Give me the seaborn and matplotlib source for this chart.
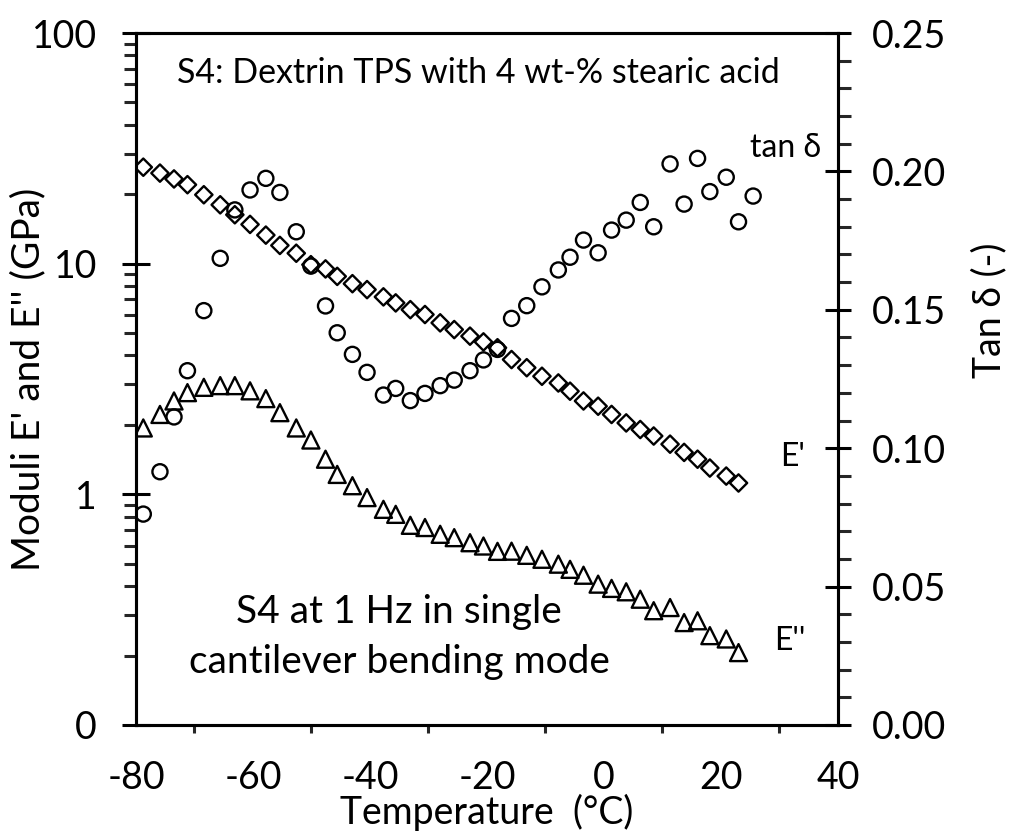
import matplotlib
matplotlib.use("Agg")
import matplotlib.pyplot as plt
import seaborn as sns
import pandas as pd
from matplotlib.ticker import FixedLocator, MultipleLocator, LogLocator, NullFormatter, FixedFormatter

# ---- data ----
temperature = [-78.75, -75.9, -73.5, -71.2, -68.4, -65.6, -63.1, -60.5, -57.8, -55.4,
               -52.6, -50.1, -47.6, -45.6, -43.0, -40.5, -37.7, -35.6, -33.1, -30.6,
               -28.0, -25.6, -22.9, -20.6, -18.2, -15.8, -13.2, -10.6, -7.8, -5.8,
               -3.5, -1.0, 1.3, 3.8, 6.2, 8.5, 11.3, 13.7, 16.0, 18.1,
               20.9, 23.0, 25.5]

storage_modulus = [26.2, 24.7, 23.3, 22.0, 19.9, 18.0, 16.3, 14.8, 13.3, 12.0,
                   11.1, 9.90, 9.49, 8.81, 8.19, 7.72, 7.18, 6.76, 6.32, 6.02,
                   5.54, 5.18, 4.85, 4.58, 4.32, 3.84, 3.54, 3.25, 3.04, 2.80,
                   2.54, 2.41, 2.22, 2.04, 1.91, 1.79, 1.65, 1.52, 1.42, 1.30,
                   1.20, 1.12]

loss_modulus = [1.94, 2.22, 2.54, 2.76, 2.91, 2.96, 2.96, 2.81, 2.60, 2.26,
                1.94, 1.72, 1.42, 1.22, 1.09, 0.968, 0.861, 0.819, 0.734, 0.718,
                0.671, 0.649, 0.617, 0.597, 0.566, 0.567, 0.544, 0.523, 0.498, 0.473,
                0.446, 0.408, 0.391, 0.378, 0.351, 0.313, 0.323, 0.278, 0.283, 0.244,
                0.236, 0.206]

tan_delta = [0.0762, 0.0915, 0.1113, 0.1280, 0.1497, 0.1686, 0.1861, 0.1933, 0.1975, 0.1924,
             0.1782, 0.1658, 0.1514, 0.1417, 0.1339, 0.1274, 0.1192, 0.1216, 0.1172, 0.1198,
             0.1226, 0.1246, 0.1280, 0.1319, 0.1357, 0.1469, 0.1515, 0.1583, 0.1644, 0.1690,
             0.1752, 0.1706, 0.1788, 0.1824, 0.1888, 0.1800, 0.2027, 0.1882, 0.2047, 0.1927,
             0.1979, 0.1818, 0.1911]

x_ticks = [-80, -60, -40, -20, 0, 20, 40]
left_ticks = [0.1, 1, 10, 100]
left_labels = ["0", "1", "10", "100"]
right_ticks = [0.00, 0.05, 0.10, 0.15, 0.20, 0.25]
right_labels = ["0.00", "0.05", "0.10", "0.15", "0.20", "0.25"]

n_mod = len(storage_modulus)
df_mod = pd.DataFrame({"T": temperature[:n_mod], "Ep": storage_modulus, "Epp": loss_modulus})
df_tan = pd.DataFrame({"T": temperature, "tan": tan_delta})

# ---- style ----
sns.set_theme(style="white")
plt.rcParams['font.family'] = ['Lato', 'DejaVu Sans']
plt.rcParams['axes.unicode_minus'] = False

fig = plt.figure(figsize=(10.14, 8.34), dpi=100)
ax = fig.add_axes([0.1341, 0.1307, 0.6923, 0.8297])
ax2 = ax.twinx()

mk = dict(facecolor="none", edgecolor="black", linewidth=1.7, legend=False, zorder=3)
sns.scatterplot(data=df_mod, x="T", y="Ep", marker="D", s=78, ax=ax, **mk)
sns.scatterplot(data=df_mod, x="T", y="Epp", marker="^", s=150, ax=ax, **mk)
sns.scatterplot(data=df_tan, x="T", y="tan", marker="o", s=118, ax=ax2, **mk)

ax.set_yscale("log")
ax.set_xlim(-80, 40)
ax.set_ylim(0.1, 100)
ax2.set_ylim(0, 0.25)

ax.xaxis.set_major_locator(FixedLocator(x_ticks))
ax.xaxis.set_minor_locator(MultipleLocator(10))
ax.yaxis.set_major_locator(FixedLocator(left_ticks))
ax.yaxis.set_major_formatter(FixedFormatter(left_labels))
ax.yaxis.set_minor_locator(LogLocator(base=10, subs=[2, 3, 4, 5, 6, 7, 8, 9]))
ax.yaxis.set_minor_formatter(NullFormatter())
ax2.yaxis.set_major_locator(FixedLocator(right_ticks))
ax2.yaxis.set_major_formatter(FixedFormatter(right_labels))
ax2.yaxis.set_minor_locator(MultipleLocator(0.01))

for a in (ax, ax2):
    for s in a.spines.values():
        s.set_linewidth(2.2)
        s.set_color("black")

tick_font = 27
ax.tick_params(axis="x", which="major", direction="inout", length=19, width=2.2,
               labelsize=tick_font, pad=16, colors="black")
ax.tick_params(axis="x", which="minor", direction="out", length=6, width=2.2, bottom=True)
ax.tick_params(axis="y", which="major", direction="inout", length=20, width=2.2,
               labelsize=tick_font, pad=18, left=True, colors="black")
ax.tick_params(axis="y", which="minor", direction="out", length=9, width=2.2, left=True)
ax2.tick_params(axis="y", which="major", direction="inout", length=19, width=2.2,
                labelsize=tick_font, pad=15, right=True, colors="black")
ax2.tick_params(axis="y", which="minor", direction="out", length=9, width=2.2, right=True)

ax.set_xlabel("Temperature  (°C)", fontsize=27, labelpad=-2, color="black")
ax.set_ylabel("Moduli E' and E'' (GPa)", fontsize=28, color="black")
ax.yaxis.set_label_coords(-0.128, 0.5)
ax2.set_ylabel("Tan δ (-)", fontsize=27, color="black")
ax2.yaxis.set_label_coords(1.19, 0.6)

# annotations
ax.text(-21.4, 67, "S4: Dextrin TPS with 4 wt-% stearic acid", fontsize=24.5,
        ha="center", va="center", color="black")
ax.text(-35.0, 0.308, "S4 at 1 Hz in single", fontsize=28, ha="center", va="center", color="black")
ax.text(-35.0, 0.1875, "cantilever bending mode", fontsize=28, ha="center", va="center", color="black")
ax.text(31.1, 31.8, "tan δ", fontsize=23, ha="center", va="center", color="black")
ax.text(32.3, 1.445, "E'", fontsize=23, ha="center", va="center", color="black")
ax.text(31.8, 0.231, "E''", fontsize=23, ha="center", va="center", color="black")

fig.savefig("out.png", dpi=100)
